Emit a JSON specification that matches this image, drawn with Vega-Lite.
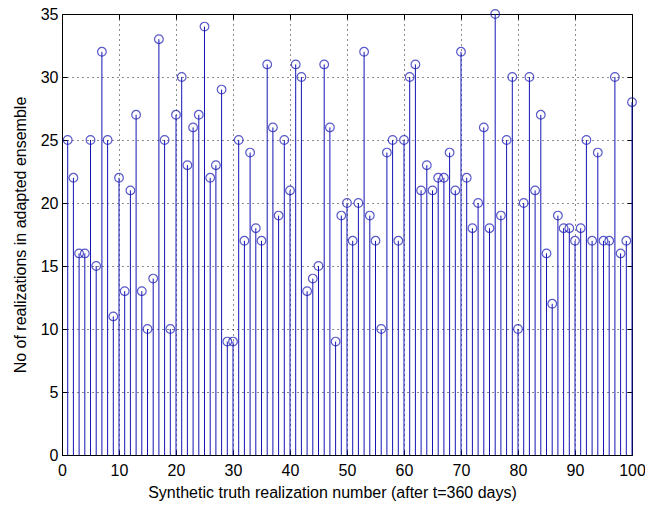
{
  "$schema": "https://vega.github.io/schema/vega-lite/v6.json",
  "width": 570,
  "height": 441,
  "autosize": "none",
  "padding": {"left": 62, "top": 14, "right": 13, "bottom": 51},
  "background": "white",
  "config": {
    "view": {"stroke": "black", "strokeWidth": 1},
    "font": "Liberation Sans",
    "axis": {
      "labelFont": "Liberation Sans",
      "titleFont": "Liberation Sans",
      "labelFontSize": 16,
      "titleFontSize": 16,
      "titleFontWeight": "normal",
      "labelColor": "#000000",
      "titleColor": "#000000",
      "labelFlush": false,
      "labelOverlap": false,
      "domain": false,
      "tickColor": "#000000",
      "tickSize": -5,
      "grid": true,
      "gridColor": "#000000",
      "gridDash": [1, 4],
      "gridOpacity": 0.9
    }
  },
  "data": {
    "values": [
      {"n": 1, "count": 25}, {"n": 2, "count": 22}, {"n": 3, "count": 16}, {"n": 4, "count": 16},
      {"n": 5, "count": 25}, {"n": 6, "count": 15}, {"n": 7, "count": 32}, {"n": 8, "count": 25},
      {"n": 9, "count": 11}, {"n": 10, "count": 22}, {"n": 11, "count": 13}, {"n": 12, "count": 21},
      {"n": 13, "count": 27}, {"n": 14, "count": 13}, {"n": 15, "count": 10}, {"n": 16, "count": 14},
      {"n": 17, "count": 33}, {"n": 18, "count": 25}, {"n": 19, "count": 10}, {"n": 20, "count": 27},
      {"n": 21, "count": 30}, {"n": 22, "count": 23}, {"n": 23, "count": 26}, {"n": 24, "count": 27},
      {"n": 25, "count": 34}, {"n": 26, "count": 22}, {"n": 27, "count": 23}, {"n": 28, "count": 29},
      {"n": 29, "count": 9}, {"n": 30, "count": 9}, {"n": 31, "count": 25}, {"n": 32, "count": 17},
      {"n": 33, "count": 24}, {"n": 34, "count": 18}, {"n": 35, "count": 17}, {"n": 36, "count": 31},
      {"n": 37, "count": 26}, {"n": 38, "count": 19}, {"n": 39, "count": 25}, {"n": 40, "count": 21},
      {"n": 41, "count": 31}, {"n": 42, "count": 30}, {"n": 43, "count": 13}, {"n": 44, "count": 14},
      {"n": 45, "count": 15}, {"n": 46, "count": 31}, {"n": 47, "count": 26}, {"n": 48, "count": 9},
      {"n": 49, "count": 19}, {"n": 50, "count": 20}, {"n": 51, "count": 17}, {"n": 52, "count": 20},
      {"n": 53, "count": 32}, {"n": 54, "count": 19}, {"n": 55, "count": 17}, {"n": 56, "count": 10},
      {"n": 57, "count": 24}, {"n": 58, "count": 25}, {"n": 59, "count": 17}, {"n": 60, "count": 25},
      {"n": 61, "count": 30}, {"n": 62, "count": 31}, {"n": 63, "count": 21}, {"n": 64, "count": 23},
      {"n": 65, "count": 21}, {"n": 66, "count": 22}, {"n": 67, "count": 22}, {"n": 68, "count": 24},
      {"n": 69, "count": 21}, {"n": 70, "count": 32}, {"n": 71, "count": 22}, {"n": 72, "count": 18},
      {"n": 73, "count": 20}, {"n": 74, "count": 26}, {"n": 75, "count": 18}, {"n": 76, "count": 35},
      {"n": 77, "count": 19}, {"n": 78, "count": 25}, {"n": 79, "count": 30}, {"n": 80, "count": 10},
      {"n": 81, "count": 20}, {"n": 82, "count": 30}, {"n": 83, "count": 21}, {"n": 84, "count": 27},
      {"n": 85, "count": 16}, {"n": 86, "count": 12}, {"n": 87, "count": 19}, {"n": 88, "count": 18},
      {"n": 89, "count": 18}, {"n": 90, "count": 17}, {"n": 91, "count": 18}, {"n": 92, "count": 25},
      {"n": 93, "count": 17}, {"n": 94, "count": 24}, {"n": 95, "count": 17}, {"n": 96, "count": 17},
      {"n": 97, "count": 30}, {"n": 98, "count": 16}, {"n": 99, "count": 17}, {"n": 100, "count": 28}
    ]
  },
  "layer": [
    {
      "mark": {"type": "rule", "color": "#1414b4", "strokeWidth": 1},
      "encoding": {
        "x": {
          "field": "n", "type": "quantitative",
          "scale": {"domain": [0, 100], "nice": false},
          "axis": {"values": [0, 10, 20, 30, 40, 50, 60, 70, 80, 90, 100], "labelPadding": 12,
                   "title": "Synthetic truth realization number (after t=360 days)", "titlePadding": 6,
                   "titleX": 270}
        },
        "y": {
          "field": "count", "type": "quantitative",
          "scale": {"domain": [0, 35], "nice": false},
          "axis": {"values": [0, 5, 10, 15, 20, 25, 30, 35], "labelPadding": 9,
                   "title": "No of realizations in adapted ensemble", "titlePadding": 12}
        },
        "y2": {"datum": 0}
      }
    },
    {
      "mark": {"type": "point", "shape": "circle", "filled": false, "color": "#1414b4", "size": 75, "strokeWidth": 1.2},
      "encoding": {
        "x": {
          "field": "n", "type": "quantitative",
          "axis": {"orient": "top", "values": [0, 10, 20, 30, 40, 50, 60, 70, 80, 90, 100], "labels": false, "title": null, "grid": false}
        },
        "y": {
          "field": "count", "type": "quantitative",
          "axis": {"orient": "right", "values": [0, 5, 10, 15, 20, 25, 30, 35], "labels": false, "title": null, "grid": false}
        }
      }
    }
  ],
  "resolve": {"axis": {"x": "independent", "y": "independent"}}
}
